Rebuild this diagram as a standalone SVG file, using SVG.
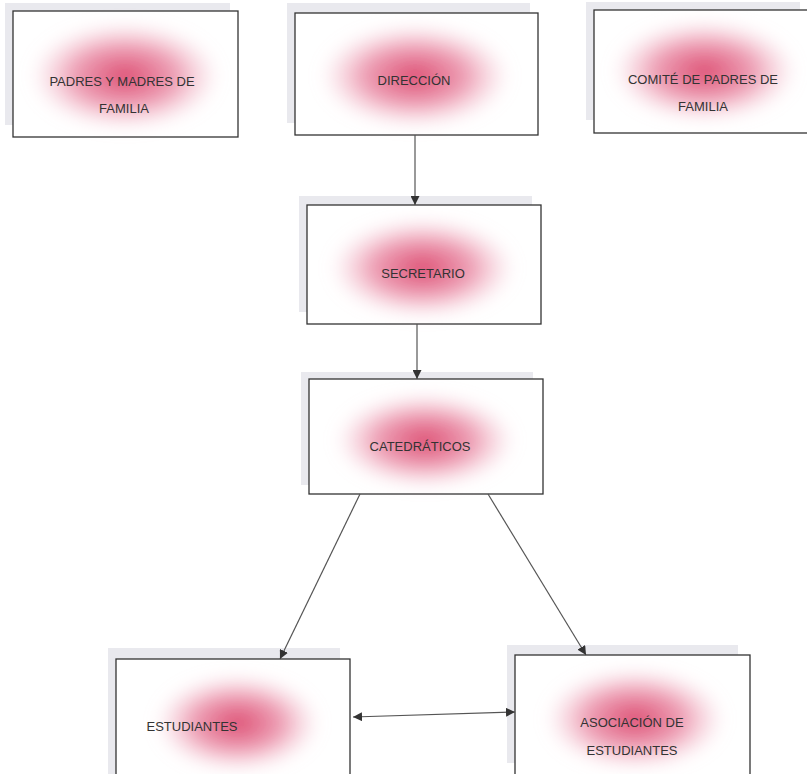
<svg xmlns="http://www.w3.org/2000/svg" width="807" height="774" viewBox="0 0 807 774">
<defs>
<radialGradient id="glow" cx="0.5" cy="0.5" r="0.5">
<stop offset="0" stop-color="#d62a55" stop-opacity="0.85"/>
<stop offset="0.55" stop-color="#e0557c" stop-opacity="0.55"/>
<stop offset="0.85" stop-color="#eea0b6" stop-opacity="0.25"/>
<stop offset="1" stop-color="#f6c8d4" stop-opacity="0"/>
</radialGradient>
<filter id="blur" x="-30%" y="-30%" width="160%" height="160%"><feGaussianBlur stdDeviation="8"/></filter>
<marker id="ah" viewBox="0 0 10 10" refX="10" refY="5" markerWidth="9" markerHeight="9" orient="auto-start-reverse" markerUnits="userSpaceOnUse">
<path d="M0,0 L10,5 L0,10 Z" fill="#333"/>
</marker>
</defs>
<style>
.shadow{fill:#e9e9ee;}
.box{fill:#fff;stroke:#333;stroke-width:1.3;}
.glow{fill:url(#glow);filter:url(#blur);}
.t{font-family:"Liberation Sans",Arial,sans-serif;font-size:13px;fill:#333;text-anchor:middle;}
.c{stroke:#555;stroke-width:1.2;fill:none;marker-end:url(#ah);}
</style>
<rect width="807" height="774" fill="#fff"/>
<g id="padres">
<rect class="shadow" x="5" y="3" width="225" height="122"/>
<rect class="box" x="13" y="11" width="225" height="126"/>
<rect class="glow" x="30" y="22" width="190" height="108"/>
<text class="t" x="122" y="86">PADRES Y MADRES DE</text>
<text class="t" x="124" y="113">FAMILIA</text>
</g>
<g id="direccion">
<rect class="shadow" x="287" y="3" width="243" height="120"/>
<rect class="box" x="295" y="13" width="243" height="122"/>
<rect class="glow" x="320" y="24" width="190" height="104"/>
<text class="t" x="414" y="85">DIRECCIÓN</text>
</g>
<g id="comite">
<rect class="shadow" x="586" y="2" width="214" height="118"/>
<rect class="box" x="594" y="10" width="220" height="123"/>
<rect class="glow" x="612" y="20" width="185" height="102"/>
<text class="t" x="703" y="84">COMITÉ DE PADRES DE</text>
<text class="t" x="703" y="111">FAMILIA</text>
</g>
<g id="secretario">
<rect class="shadow" x="299" y="196" width="233" height="116"/>
<rect class="box" x="307" y="205" width="234" height="119"/>
<rect class="glow" x="330" y="218" width="185" height="100"/>
<text class="t" x="423" y="278">SECRETARIO</text>
</g>
<g id="catedraticos">
<rect class="shadow" x="301" y="372" width="232" height="113"/>
<rect class="box" x="309" y="379" width="234" height="115"/>
<rect class="glow" x="335" y="393" width="180" height="95"/>
<text class="t" x="420" y="451">CATEDRÁTICOS</text>
</g>
<g id="estudiantes">
<rect class="shadow" x="108" y="648" width="232" height="126"/>
<rect class="box" x="116" y="659" width="234" height="120"/>
<rect class="glow" x="155" y="674" width="165" height="98"/>
<text class="t" x="192" y="731">ESTUDIANTES</text>
</g>
<g id="asociacion">
<rect class="shadow" x="507" y="645" width="231" height="118"/>
<rect class="box" x="515" y="655" width="235" height="124"/>
<rect class="glow" x="545" y="668" width="180" height="102"/>
<text class="t" x="632" y="727">ASOCIACIÓN DE</text>
<text class="t" x="632" y="755">ESTUDIANTES</text>
</g>
<g id="connectors">
<line class="c" x1="415" y1="135" x2="415" y2="205"/>
<line class="c" x1="417" y1="324" x2="417" y2="379"/>
<line class="c" x1="360" y1="494" x2="280" y2="659"/>
<line class="c" x1="488" y1="494" x2="586" y2="655"/>
<line class="c" x1="353" y1="717" x2="515" y2="712" style="marker-start:url(#ah)"/>
</g>
</svg>
